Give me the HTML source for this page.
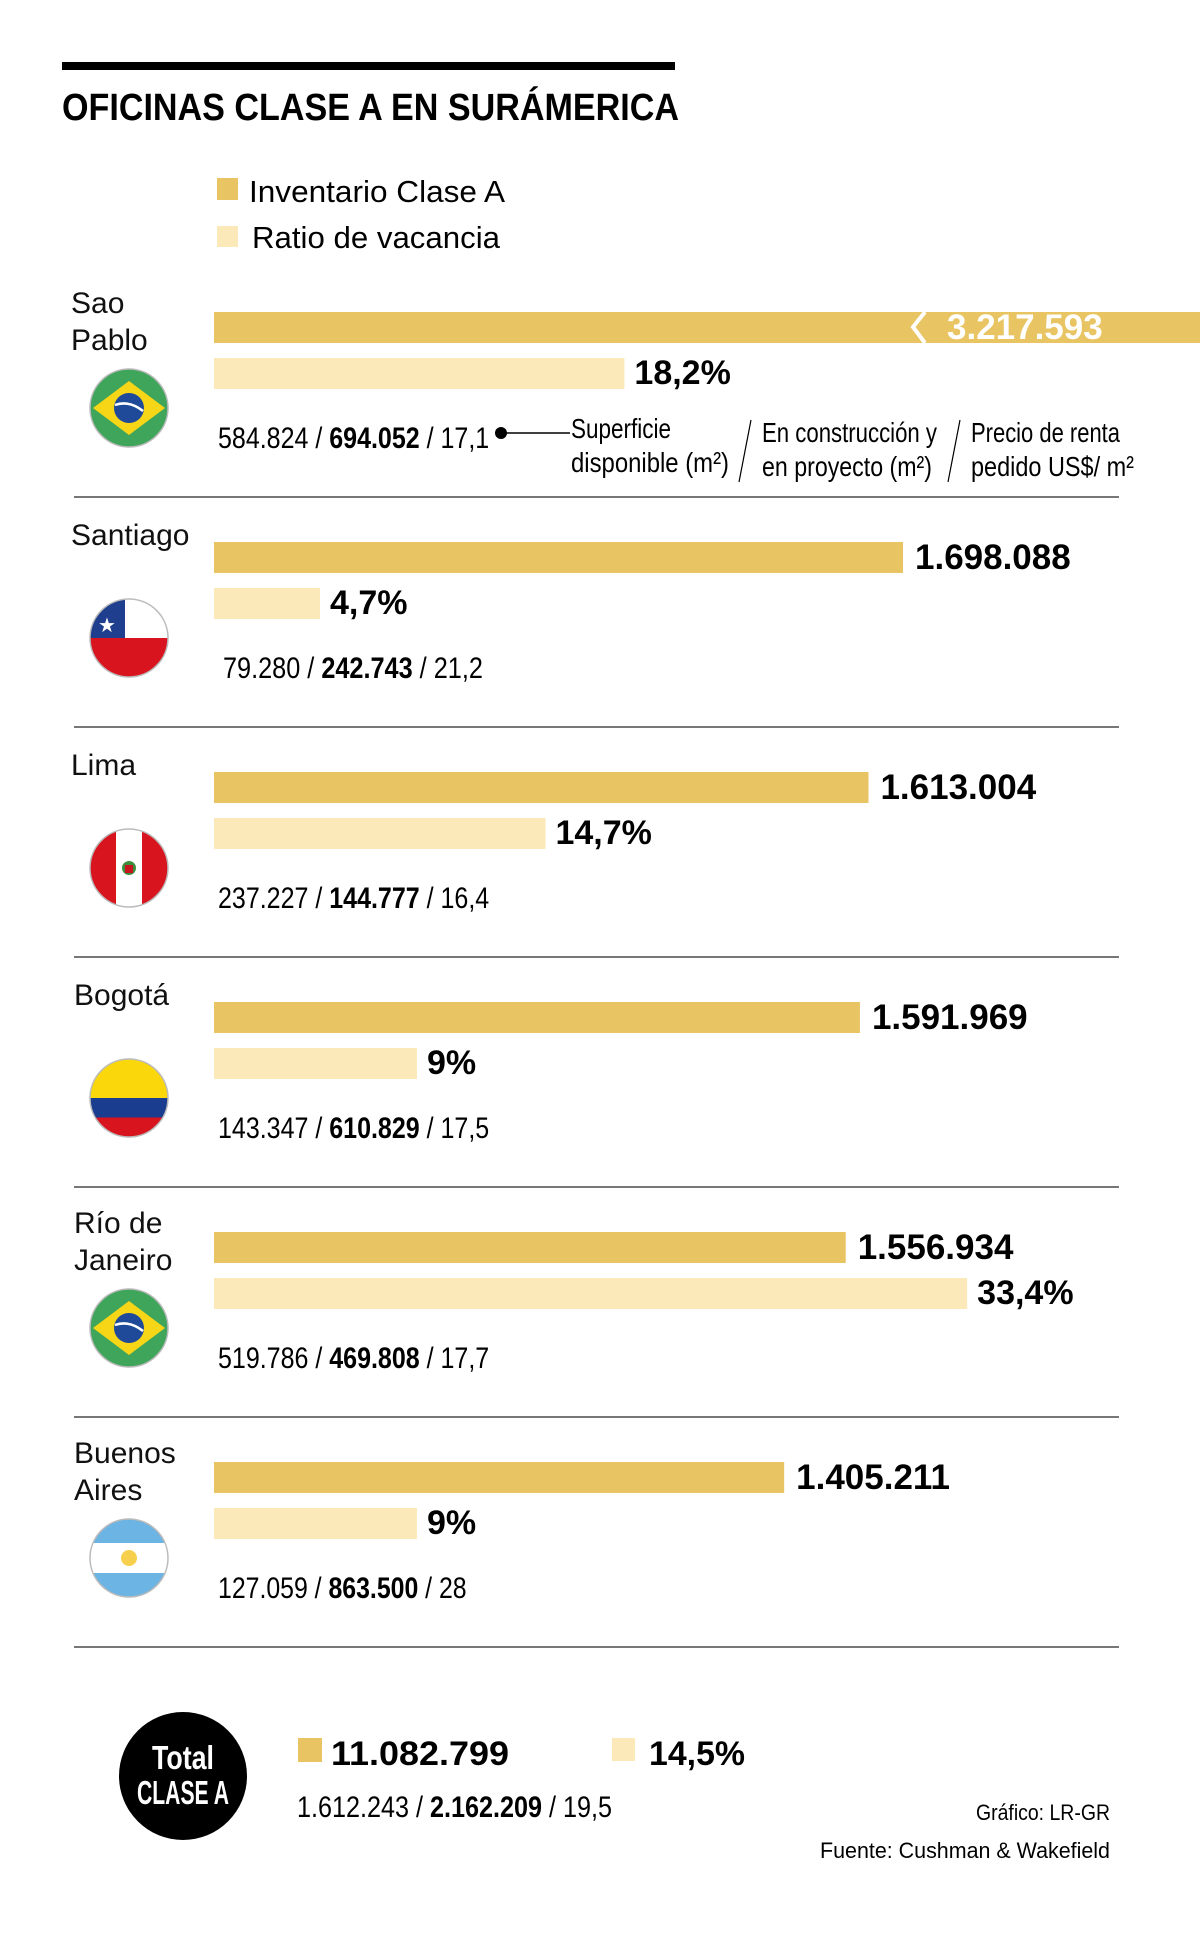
<!DOCTYPE html>
<html><head><meta charset="utf-8"><style>
html,body{margin:0;padding:0;background:#fff;}
svg{display:block;font-family:"Liberation Sans",sans-serif;}
</style></head><body>
<svg id="chart" width="1200" height="1953" viewBox="0 0 1200 1953" xmlns="http://www.w3.org/2000/svg">
<rect x="62" y="62" width="613" height="8" fill="#000"/>
<text x="62" y="120" font-size="38" font-weight="bold" textLength="617" lengthAdjust="spacingAndGlyphs">OFICINAS CLASE A EN SURÁMERICA</text>
<rect x="217" y="178" width="21" height="22" fill="#E8C463"/>
<text x="249" y="202" font-size="31" textLength="256" lengthAdjust="spacingAndGlyphs">Inventario Clase A</text>
<rect x="217" y="226" width="21" height="21" fill="#FBE9B9"/>
<text x="252" y="248" font-size="31" textLength="248" lengthAdjust="spacingAndGlyphs">Ratio de vacancia</text>
<g id="rows"></g>
<g>
<line x1="501" y1="433" x2="570" y2="433" stroke="#000" stroke-width="1.5"/>
<circle cx="501" cy="433" r="6" fill="#000"/>
<text x="571" y="438" font-size="28" textLength="100" lengthAdjust="spacingAndGlyphs">Superficie</text>
<text x="571" y="472" font-size="28" textLength="158" lengthAdjust="spacingAndGlyphs">disponible (m²)</text>
<line x1="751" y1="420" x2="739" y2="482" stroke="#000" stroke-width="1.2"/>
<text x="762" y="442" font-size="28" textLength="175" lengthAdjust="spacingAndGlyphs">En construcción y</text>
<text x="762" y="476" font-size="28" textLength="170" lengthAdjust="spacingAndGlyphs">en proyecto (m²)</text>
<line x1="960" y1="420" x2="948" y2="482" stroke="#000" stroke-width="1.2"/>
<text x="971" y="442" font-size="28" textLength="149" lengthAdjust="spacingAndGlyphs">Precio de renta</text>
<text x="971" y="476" font-size="28" textLength="163" lengthAdjust="spacingAndGlyphs">pedido US$/ m²</text>
</g>
<g>
<circle cx="183" cy="1776" r="64" fill="#000"/>
<text x="183" y="1769" font-size="33" font-weight="bold" fill="#fff" text-anchor="middle" textLength="62" lengthAdjust="spacingAndGlyphs">Total</text>
<text x="183" y="1804" font-size="33" font-weight="bold" fill="#fff" text-anchor="middle" textLength="92" lengthAdjust="spacingAndGlyphs">CLASE A</text>
<rect x="298" y="1738" width="24" height="24" fill="#E8C463"/>
<text x="331" y="1765" font-size="34" font-weight="bold" textLength="178" lengthAdjust="spacingAndGlyphs">11.082.799</text>
<rect x="612" y="1738" width="23" height="23" fill="#FBE9B9"/>
<text x="649" y="1765" font-size="34" font-weight="bold" textLength="96" lengthAdjust="spacingAndGlyphs">14,5%</text>
<text x="297" y="1817" font-size="30" textLength="315" lengthAdjust="spacingAndGlyphs">1.612.243 / <tspan font-weight="bold">2.162.209</tspan> / 19,5</text>
<text x="1110" y="1820" font-size="22" text-anchor="end" textLength="134" lengthAdjust="spacingAndGlyphs">Gráfico: LR-GR</text>
<text x="1110" y="1858" font-size="22" text-anchor="end" textLength="290" lengthAdjust="spacingAndGlyphs">Fuente:  Cushman &amp; Wakefield</text>
</g>
</svg>
<script>
const cities = [["Sao","Pablo"],["Santiago"],["Lima"],["Bogotá"],["Río de","Janeiro"],["Buenos","Aires"]];
const inventory = [3217593, 1698088, 1613004, 1591969, 1556934, 1405211];
const inventoryLabels = ["3.217.593","1.698.088","1.613.004","1.591.969","1.556.934","1.405.211"];
const vacancy = [18.2, 4.7, 14.7, 9, 33.4, 9];
const vacancyLabels = ["18,2%","4,7%","14,7%","9%","33,4%","9%"];
const available = ["584.824","79.280","237.227","143.347","519.786","127.059"];
const construction = ["694.052","242.743","144.777","610.829","469.808","863.500"];
const price = ["17,1","21,2","16,4","17,5","17,7","28"];
const flags = ["br","cl","pe","co","br","ar"];

const NS="http://www.w3.org/2000/svg";
const X0=214, XMAX=1200;
const xInv=v=>X0+v*689/1698088;
const xVac=v=>X0+v*22.55;
const rowTop=i=>267+i*230;
const g=document.getElementById('rows');
function el(tag,attrs,parent){const e=document.createElementNS(NS,tag);for(const k in attrs)e.setAttribute(k,attrs[k]);(parent||g).appendChild(e);return e;}

function drawFlag(type,cx,cy,p){
  const r=39;
  const id='clip'+cx+'_'+cy;
  const cp=el('clipPath',{id:id},p);el('circle',{cx:cx,cy:cy,r:r},cp);
  const f=el('g',{'clip-path':'url(#'+id+')'},p);
  if(type==='br'){el('rect',{x:cx-r,y:cy-r,width:2*r,height:2*r,fill:'#3FA55A'},f);
    el('polygon',{points:`${cx-36},${cy} ${cx},${cy-27} ${cx+36},${cy} ${cx},${cy+27}`,fill:'#F7D618'},f);
    el('circle',{cx:cx,cy:cy,r:15,fill:'#1F4A9A'},f);
    el('path',{d:`M${cx-14},${cy-3} Q${cx},${cy-8} ${cx+14},${cy+3}`,stroke:'#fff','stroke-width':2.5,fill:'none'},f);}
  else if(type==='cl'){el('rect',{x:cx-r,y:cy-r,width:2*r,height:r,fill:'#fff'},f);
    el('rect',{x:cx-r,y:cy,width:2*r,height:r,fill:'#D8141E'},f);
    el('rect',{x:cx-r,y:cy-r,width:r-4,height:r,fill:'#1F3E8E'},f);
    el('text',{x:cx-22,y:cy-6,'font-size':20,fill:'#fff','text-anchor':'middle'},f).textContent='★';}
  else if(type==='pe'){el('rect',{x:cx-r,y:cy-r,width:2*r,height:2*r,fill:'#fff'},f);
    el('rect',{x:cx-r,y:cy-r,width:26,height:2*r,fill:'#D8141E'},f);
    el('rect',{x:cx+13,y:cy-r,width:26,height:2*r,fill:'#D8141E'},f);
    el('circle',{cx:cx,cy:cy,r:7,fill:'#3C8F3C'},f);el('rect',{x:cx-4,y:cy-3,width:8,height:8,fill:'#C8141E'},f);}
  else if(type==='co'){el('rect',{x:cx-r,y:cy-r,width:2*r,height:r,fill:'#F9D70B'},f);
    el('rect',{x:cx-r,y:cy,width:2*r,height:r/2,fill:'#1A3D8F'},f);
    el('rect',{x:cx-r,y:cy+r/2,width:2*r,height:r/2,fill:'#D8141E'},f);}
  else if(type==='ar'){el('rect',{x:cx-r,y:cy-r,width:2*r,height:2*r,fill:'#6CB4E4'},f);
    el('rect',{x:cx-r,y:cy-r/3-2,width:2*r,height:2*r/3+4,fill:'#fff'},f);
    el('circle',{cx:cx,cy:cy,r:8,fill:'#F6D04D'},f);}
  el('circle',{cx:cx,cy:cy,r:r,fill:'none',stroke:'#bbb','stroke-width':1.5},p);
}

cities.forEach((c,i)=>{
  const t=rowTop(i);
  const row=el('g',{});
  
  
  c.forEach((line,j)=>{
    const tx=el('text',{x:i===0||i===1||i===2?71:74,y:t+(c.length>1?46+j*37:48),'font-size':30,fill:'#111'},row);
    
    
    tx.textContent=line;
  });
  let w=xInv(inventory[i]);
  const clipped=w>XMAX;
  const b1=el('rect',{x:X0,y:t+45,width:Math.min(w,XMAX)-X0,height:31,fill:'#E8C463'},row);
  
  
  const l1=el('text',{y:t+72,'font-size':35,'font-weight':'bold'},row);
  
  
  l1.textContent=inventoryLabels[i];
  if(clipped){
    el('polyline',{points:`${925},${t+45} ${913},${t+60} ${925},${t+76}`,stroke:'#fff','stroke-width':4,fill:'none'},row);
    l1.setAttribute('x',947);l1.setAttribute('fill','#fff');
  } else {l1.setAttribute('x',w+12);}
  const v=xVac(vacancy[i]);
  const b2=el('rect',{x:X0,y:t+91,width:v-X0,height:31,fill:'#FBE9B9'},row);
  
  
  const l2=el('text',{x:v+10,y:t+117,'font-size':34,'font-weight':'bold'},row);
  
  
  l2.textContent=vacancyLabels[i];
  const fg=el('g',{},row);
  
  
  drawFlag(flags[i],129,t+141,fg);
  const s=available[i]+' / '+construction[i]+' / '+price[i];
  const d=el('text',{x:i===1?223:218,y:t+181,'font-size':30,textLength:s.length*11.3,lengthAdjust:'spacingAndGlyphs'},row);
  
  
  d.appendChild(document.createTextNode(available[i]+' / '));
  const bt=el('tspan',{'font-weight':'bold'},d);bt.textContent=construction[i];
  d.appendChild(document.createTextNode(' / '+price[i]));
  const sep=el('line',{x1:74,y1:t+230,x2:1119,y2:t+230,stroke:'#777','stroke-width':2},row);
  
  
});
</script>
</body></html>
